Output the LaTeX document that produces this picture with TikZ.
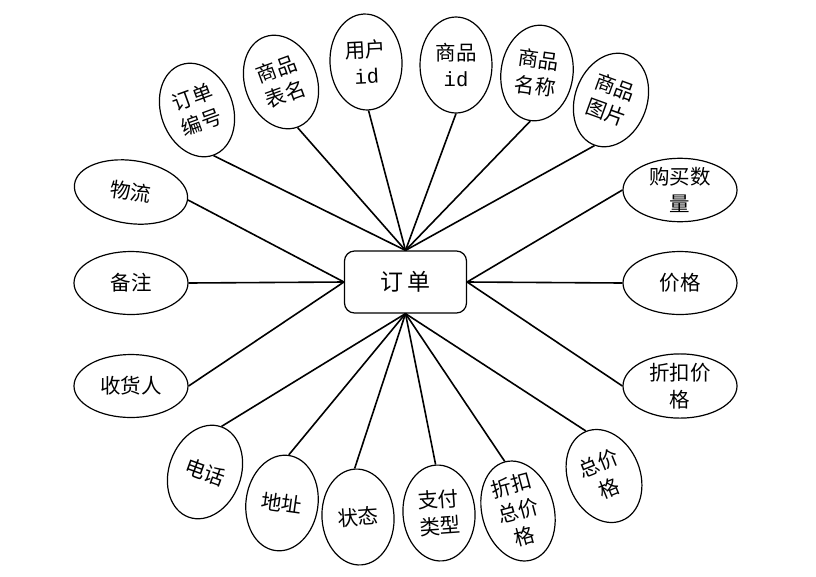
\documentclass[tikz,border=0pt]{standalone}
\usepackage{fontspec}
\setmainfont{Noto Sans CJK SC}
\newfontfamily\latinmono{Liberation Mono}
\usetikzlibrary{shapes.geometric}
\tikzset{
 attr/.style={ellipse, draw, line width=1.2pt, fill=white, inner sep=0pt, align=center, font=\fontsize{20.5}{26.5}\selectfont},
 vattr/.style={attr, minimum width=72pt, minimum height=96pt},
 hattr/.style={attr, minimum width=114pt, minimum height=63pt},
 ent/.style={rectangle, rounded corners=10pt, draw, line width=1.2pt, minimum width=122pt, minimum height=62pt, font=\fontsize{23}{27}\selectfont},
 link/.style={line width=1.6pt},
}
\begin{document}
\begin{tikzpicture}[x=1pt,y=-1pt]
\useasboundingbox[fill=white] (0,0) rectangle (816,576);
\node[ent] (E) at (405.5,282) {订\hspace{4pt}单};
\node[vattr, rotate=20] (a1) at (197,110) {订单\\编号};
\node[vattr, rotate=20] (a2) at (281,82) {商品\\表名};
\node[vattr, rotate=3] (a3) at (366,62) {用户\\{\latinmono id}};
\node[vattr] (a4) at (456,65) {商品\\{\latinmono id}};
\node[vattr, rotate=-8] (a5) at (537,73) {商品\\名称};
\node[vattr, rotate=-20] (a6) at (611,100) {商品\\图片};
\node[hattr] (a7) at (680,190) {购买数\\量};
\node[hattr] (a8) at (680,283) {价格};
\node[hattr] (a9) at (680,386) {折扣价\\格};
\node[vattr, rotate=22] (a10) at (604,476) {总价\\格};
\node[vattr, rotate=15] (a11) at (518,511) {折扣\\总价\\格};
\node[vattr, rotate=4] (a12) at (439,513) {支付\\类型};
\node[vattr, rotate=4] (a13) at (358,517) {状态};
\node[vattr, rotate=-8] (a14) at (282,503) {地址};
\node[vattr, rotate=-20] (a15) at (205,472) {电话};
\node[hattr] (a16) at (131,386) {收货人};
\node[hattr] (a17) at (131,283) {备注};
\node[hattr, rotate=-8] (a18) at (131,192) {物流};
\foreach \n in {a1,a2,a3,a4,a5,a6} \draw[link] (\n.south) -- (E.north);
\foreach \n in {a10,a11,a12,a13,a14,a15} \draw[link] (\n.north) -- (E.south);
\foreach \n in {a7,a8,a9} \draw[link] (\n.west) -- (E.east);
\foreach \n in {a16,a17,a18} \draw[link] (\n.east) -- (E.west);
\end{tikzpicture}
\end{document}
